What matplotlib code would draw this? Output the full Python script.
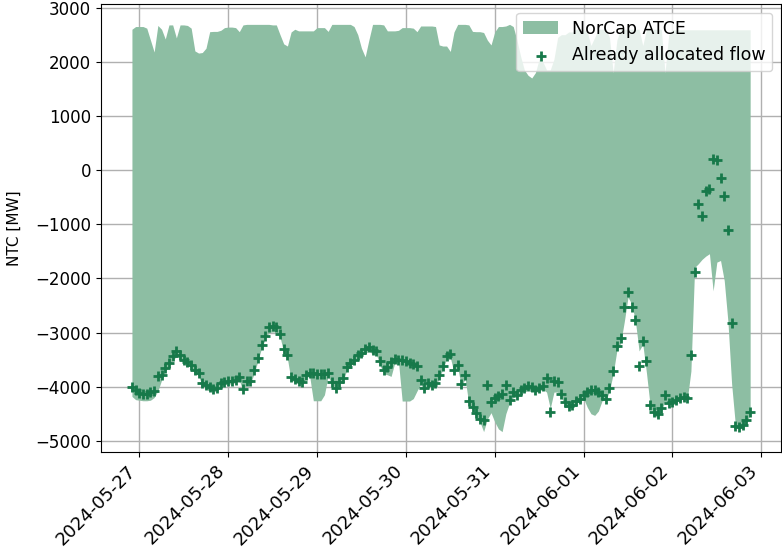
import matplotlib
matplotlib.use("Agg")
import matplotlib.pyplot as plt
import matplotlib.dates as mdates
import numpy as np
import pandas as pd

# Hourly timestamps, one week
times = pd.date_range("2024-05-26 22:00", "2024-06-02 21:00", freq="h")

# Upper edge of the NorCap ATCE band [MW]
atce_upper = [
    2600, 2650, 2650, 2650, 2620, 2400, 2180, 2670, 2600, 2420,
    2680, 2680, 2440, 2680, 2680, 2670, 2620, 2200, 2160, 2170,
    2250, 2555, 2560, 2560, 2580, 2630, 2640, 2640, 2630, 2555,
    2680, 2690, 2690, 2690, 2690, 2690, 2690, 2690, 2680, 2680,
    2500, 2330, 2290, 2550, 2600, 2570, 2570, 2570, 2570, 2570,
    2630, 2630, 2630, 2560, 2690, 2690, 2690, 2690, 2690, 2690,
    2650, 2500, 2250, 2090, 2400, 2690, 2690, 2690, 2680, 2570,
    2570, 2570, 2580, 2630, 2630, 2630, 2620, 2555, 2660, 2660,
    2660, 2660, 2650, 2310, 2290, 2290, 2190, 2550, 2690, 2690,
    2690, 2680, 2560, 2555, 2555, 2540, 2400, 2310, 2550, 2650,
    2650, 2660, 2690, 2650, 2400, 2100, 1850, 1750, 1700, 1800,
    2050, 2000, 1850, 1850, 2050, 2450, 2500, 2500, 2550, 2550,
    2600, 2600, 2600, 2550, 2300, 2450, 2600, 2600, 2600, 2450,
    1800, 2400, 2600, 2600, 2600, 2600, 2600, 2600, 2300, 2600,
    2600, 2600, 2600, 2600, 1800, 2500, 2590, 2590, 2590, 2590,
    2590, 2590, 2590, 2590, 2590, 2590, 2590, 2590, 2590, 2590,
    2590, 2590, 2590, 2590, 2590, 2590, 2590, 2590,
]

# Lower edge of the NorCap ATCE band [MW]
atce_lower = [
    -4180, -4240, -4250, -4260, -4260, -4250, -4200, -4080, -3880, -3720,
    -3620, -3500, -3450, -3470, -3540, -3590, -3660, -3740, -3800, -3980,
    -4020, -4070, -4100, -4080, -4000, -3960, -3950, -3950, -3920, -3880,
    -4080, -3950, -3940, -3760, -3530, -3290, -3120, -3000, -2990, -2990,
    -3080, -3370, -3480, -3890, -3900, -3940, -3970, -3840, -3800, -4260,
    -4260, -4260, -4150, -3800, -3970, -4080, -3960, -3900, -3700, -3620,
    -3550, -3480, -3430, -3380, -3350, -3390, -3400, -3600, -3760, -3780,
    -3810, -3560, -3540, -4265, -4265, -4265, -4220, -4080, -3950, -4080,
    -3990, -4020, -3990, -3850, -3670, -3490, -3460, -3740, -3650, -4000,
    -3850, -4320, -4420, -4550, -4650, -4830, -4600, -4480, -4650, -4780,
    -4830, -4500, -4300, -4200, -4200, -4110, -4080, -4040, -4070, -4110,
    -4080, -4050, -4100, -4400, -4100, -4100, -4200, -4340, -4400, -4390,
    -4310, -4270, -4220, -4380, -4500, -4530, -4450, -4260, -4250, -4080,
    -3760, -3330, -3200, -2800, -2350, -2470, -2790, -3340, -3215, -3750,
    -4360, -4520, -4580, -4450, -4270, -4300, -4290, -4270, -4250, -4230,
    -4250, -3710, -1800, -1730, -1650, -1590, -1545, -2230, -1700, -1670,
    -2040, -2800, -3950, -4700, -4760, -4730, -4660, -4520,
]

# Already allocated flow [MW]
allocated_flow = [
    -4010, -4070, -4110, -4130, -4140, -4100, -4080, -3810, -3780, -3660,
    -3560, -3440, -3350, -3420, -3500, -3540, -3600, -3690, -3750, -3930,
    -3960, -4010, -4050, -4030, -3940, -3910, -3900, -3900, -3870, -3820,
    -4040, -3900, -3890, -3700, -3470, -3235, -3070, -2900, -2885, -2900,
    -3020, -3310, -3420, -3830, -3850, -3890, -3920, -3790, -3750, -3750,
    -3770, -3770, -3770, -3750, -3920, -4030, -3905, -3840, -3645, -3565,
    -3500, -3420, -3370, -3300, -3275, -3330, -3340, -3530, -3700, -3630,
    -3545, -3490, -3500, -3510, -3530, -3560, -3590, -3625, -3880, -4030,
    -3935, -3965, -3935, -3790, -3610, -3430, -3400, -3690, -3595, -3950,
    -3790, -4270, -4370, -4480, -4590, -4620, -3960, -4275, -4215, -4180,
    -4140, -3965, -4245, -4090, -4150, -4060, -4020, -3980, -4015, -4060,
    -4030, -3990, -3840, -4475, -3890, -3905, -4140, -4290, -4350, -4340,
    -4265, -4230, -4160, -4100, -4060, -4060, -4100, -4160, -4220, -4030,
    -3705, -3255, -3110, -2530, -2245, -2530, -2760, -3625, -3160, -3530,
    -4340, -4460, -4510, -4400, -4150, -4305, -4275, -4240, -4215, -4190,
    -4215, -3420, -1875, -625, -840, -390, -350, 210, 180, -140,
    -470, -1110, -2820, -4720, -4740, -4700, -4615, -4475,
]

fig = plt.figure(figsize=(7.82, 5.49), dpi=100)
ax = fig.add_axes([0.1292, 0.1767, 0.8696, 0.816])

ax.fill_between(times, atce_lower, atce_upper, color="#8dbea3", linewidth=0,
                label="NorCap ATCE")
ax.scatter(times, allocated_flow, marker="+", s=60, linewidths=2,
           color="#17794a", label="Already allocated flow", zorder=3)

ax.set_ylabel("NTC [MW]", fontsize=11, labelpad=10)
ax.set_yticks(np.arange(-5000, 3001, 1000))
ax.xaxis.set_major_locator(mdates.DayLocator())
ax.xaxis.set_major_formatter(mdates.DateFormatter("%Y-%m-%d"))
ax.tick_params(axis="y", labelsize=12)
ax.tick_params(axis="x", labelsize=13)
plt.setp(ax.get_xticklabels(), rotation=45, ha="right")
ax.grid(True, color="#b0b0b0", linewidth=1)
ax.set_axisbelow(True)
ax.legend(loc="upper right", fontsize=12.5)

fig.savefig("out.png", dpi=100)
